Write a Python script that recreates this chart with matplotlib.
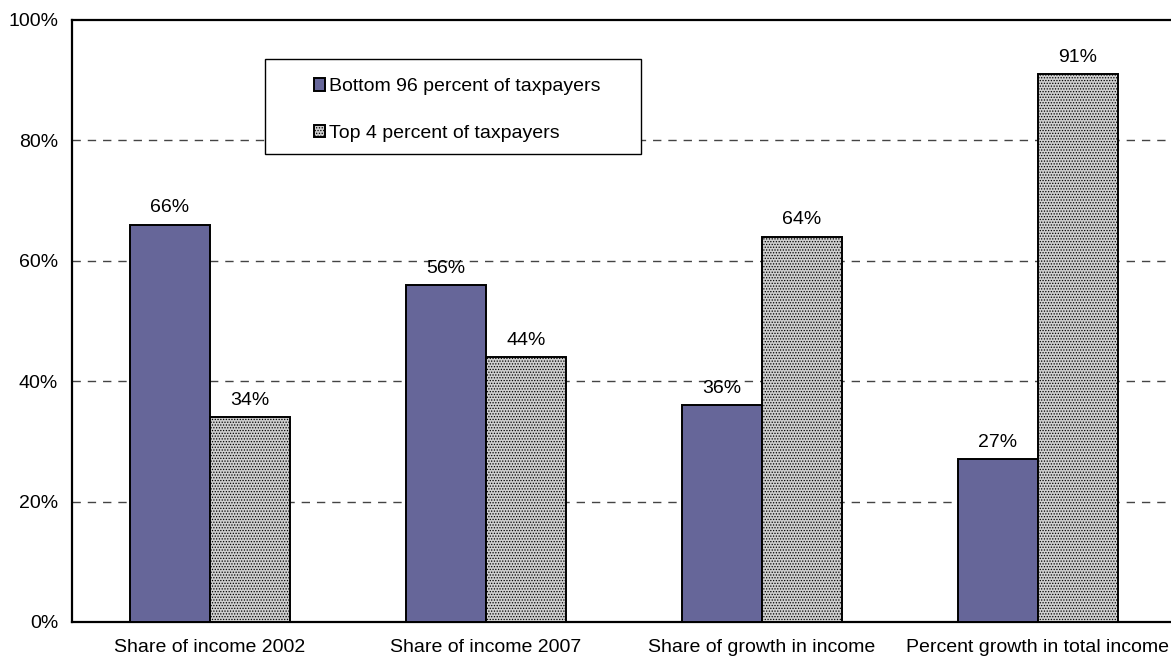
import numpy as np
import matplotlib
matplotlib.use("Agg")
import matplotlib.pyplot as plt
from matplotlib.patches import Rectangle

plt.rcParams.update({
    "font.family": ["Liberation Sans", "DejaVu Sans"],
    "hatch.linewidth": 0.6,
    "hatch.color": "#a4a4a4",
})

categories = ["Share of income 2002", "Share of income 2007",
              "Share of growth in income", "Percent growth in total income"]
bottom_96 = [66, 56, 36, 27]
top_4 = [34, 44, 64, 91]
series_names = ["Bottom 96 percent of taxpayers", "Top 4 percent of taxpayers"]
yticks = [0, 20, 40, 60, 80, 100]

BLUE = "#666699"
GRAY = "#cfcfcf"
FS = 14

fig = plt.figure(figsize=(11.71, 6.62), dpi=100)
ax = fig.add_axes([72 / 1171, 40 / 662, 1104 / 1171, 602 / 662])

x = np.arange(len(categories))
w = 0.29
b1 = ax.bar(x - w / 2, bottom_96, w, color=BLUE, edgecolor="black", lw=1.4,
            zorder=3, label=series_names[0])
b2 = ax.bar(x + w / 2, top_4, w, color=GRAY, edgecolor="black", lw=1.4,
            hatch="......", zorder=3, label=series_names[1])

for bars, vals in [(b1, bottom_96), (b2, top_4)]:
    for r, v in zip(bars, vals):
        ax.annotate(f"{v}%", (r.get_x() + r.get_width() / 2, v),
                    xytext=(0, 6), textcoords="offset points",
                    ha="center", va="bottom", fontsize=FS)

ax.set_xlim(-0.5, len(categories) - 0.5)
ax.set_ylim(0, 100)
ax.set_yticks(yticks)
ax.set_yticklabels([f"{t}%" for t in yticks], fontsize=FS)
ax.set_xticks(x)
ax.set_xticklabels(categories, fontsize=FS)
ax.tick_params(axis="x", length=0, pad=12)
ax.tick_params(axis="y", length=0, pad=10)

for t in yticks[1:-1]:
    ax.axhline(t, color="#444444", lw=1.0, ls=(0, (6, 5)), zorder=1)

for s in ax.spines.values():
    s.set_linewidth(1.6)

# legend box drawn by hand so it covers the gridlines
ax.add_patch(Rectangle((0.175, 0.777), 0.34, 0.158, transform=ax.transAxes,
                       facecolor="white", edgecolor="black", lw=1, zorder=4))
ax.legend(loc="upper left", bbox_to_anchor=(0.203, 0.932), frameon=False,
          fontsize=FS, handlelength=0.6, handleheight=0.6,
          handletextpad=0.2, labelspacing=1.5)

fig.savefig("out.png", dpi=100)
